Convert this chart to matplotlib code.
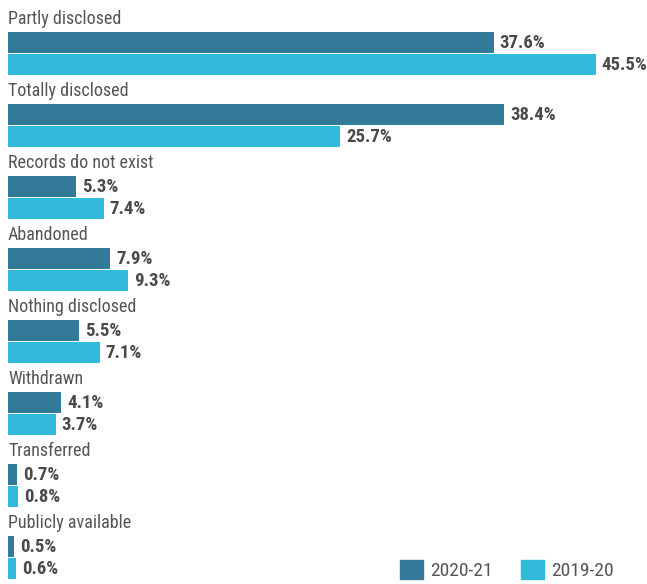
import numpy as np
import matplotlib
matplotlib.use('Agg')
import matplotlib.pyplot as plt
from matplotlib.patches import Patch

# outcome categories, top to bottom
categories = ['Partly disclosed', 'Totally disclosed', 'Records do not exist', 'Abandoned',
              'Nothing disclosed', 'Withdrawn', 'Transferred', 'Publicly available']
# share of finalised requests (%)
pct_2020_21 = [37.6, 38.4, 5.3, 7.9, 5.5, 4.1, 0.7, 0.5]
pct_2019_20 = [45.5, 25.7, 7.4, 9.3, 7.1, 3.7, 0.8, 0.6]
years = ['2020-21', '2019-20']

dark = '#337a99'
light = '#32badb'
plt.rcParams['font.family'] = ['Roboto Condensed', 'Archivo Narrow', 'DejaVu Sans']

W, H = 647, 584
fig = plt.figure(figsize=(W / 100, H / 100), dpi=100)
ax = fig.add_axes([0, 0, 1, 1])

# horizontal scale: pixels per percent, bars start 8 px from the left
px_per_pct = 12.92
ax.set_xlim(-8 / px_per_pct, (W - 8) / px_per_pct)
ax.set_ylim(H, 0)  # vertical layout in pixel rows
ax.axis('off')

step = 72.0
bar_h = 21
for i, cat in enumerate(categories):
    top = i * step
    ax.text(0, top + 24, cat, fontsize=13, color='#555555', va='baseline', ha='left')
    for val, col, off in ((pct_2020_21[i], dark, 42.5), (pct_2019_20[i], light, 64)):
        ax.barh(top + off, val, height=bar_h, color=col, left=0)
        ax.text(val + 6 / px_per_pct, top + off + 1, '%.1f%%' % val, fontsize=13.5,
                fontweight='semibold', color='#4a4a4a', va='center', ha='left')

handles = [Patch(color=dark), Patch(color=light)]
leg = ax.legend(handles, years, loc='lower right', bbox_to_anchor=(618 / W, 0.0), ncol=2,
                frameon=False, fontsize=14, handlelength=1.15, handleheight=1.15,
                handletextpad=0.4, columnspacing=1.45, borderaxespad=0.1, borderpad=0.1)
for t in leg.get_texts():
    t.set_color('#555555')

fig.savefig('out.png', dpi=100)
